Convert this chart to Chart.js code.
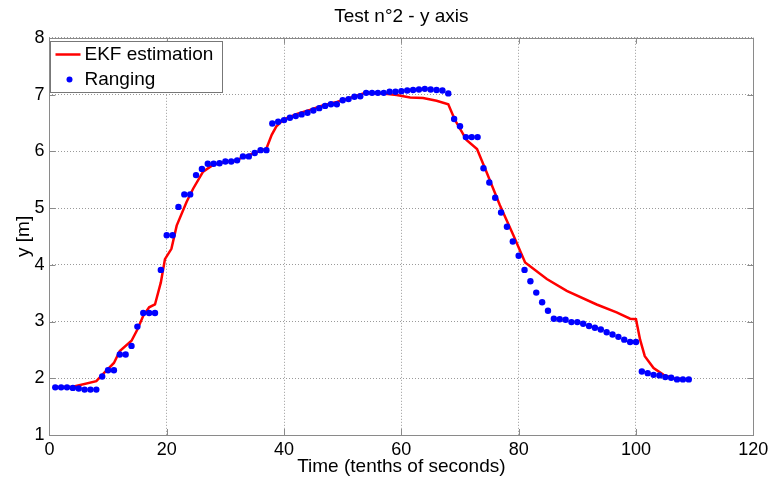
<!DOCTYPE html>
<html>
<head>
<meta charset="utf-8">
<title>Test n°2 - y axis</title>
<script src="https://cdn.jsdelivr.net/npm/chart.js@4"></script>
<style>
    html, body { margin: 0; padding: 0; background: #fff; }
</style>
</head>
<body>
<canvas id="chartY" width="777" height="480"></canvas>
<script>
// Ranging samples (y in metres), one per tenth of second from t = 1
const rangingY = [
    1.84, 1.84, 1.84, 1.83, 1.82, 1.80, 1.80, 1.80, 2.03, 2.14,
    2.14, 2.42, 2.42, 2.57, 2.91, 3.15, 3.15, 3.15, 3.91, 4.52,
    4.52, 5.02, 5.24, 5.24, 5.58, 5.69, 5.78, 5.78, 5.79, 5.82,
    5.82, 5.84, 5.91, 5.91, 5.97, 6.02, 6.02, 6.49, 6.52, 6.55,
    6.59, 6.62, 6.65, 6.68, 6.72, 6.76, 6.80, 6.83, 6.83, 6.90,
    6.92, 6.96, 6.97, 7.03, 7.03, 7.03, 7.03, 7.05, 7.05, 7.06,
    7.07, 7.08, 7.09, 7.10, 7.09, 7.08, 7.07, 7.02, 6.57, 6.44,
    6.25, 6.25, 6.25, 5.70, 5.45, 5.18, 4.92, 4.67, 4.41, 4.16,
    3.91, 3.71, 3.51, 3.34, 3.19, 3.05, 3.04, 3.03, 2.99, 2.99,
    2.96, 2.92, 2.89, 2.86, 2.81, 2.77, 2.73, 2.68, 2.64, 2.64,
    2.12, 2.09, 2.06, 2.05, 2.02, 2.01, 1.98, 1.98, 1.98
];

// EKF estimation, vertices of the red curve
const ekfT = [
    1, 4, 8, 9, 11, 12, 14, 15, 16, 17,
    18, 19, 19.7, 20.8, 21.7, 23.4, 24.5, 26.2, 27.9, 30.2,
    31.8, 32.8, 33.9, 35.3, 37, 37.9, 38.7, 39.9, 42.2, 44.4,
    46.7, 49, 51.2, 53.5, 56.9, 59.2, 61.5, 63.7, 66, 68,
    69.1, 71.1, 72.9, 74.5, 76.8, 79.1, 81.1, 84.8, 88.2, 93.3,
    96.7, 99, 100, 100.7, 101.5, 103, 104.7, 106.4, 108.9
];
const ekfY = [
    1.84, 1.85, 1.95, 2.06, 2.27, 2.48, 2.66, 2.86, 3.10, 3.25,
    3.30, 3.69, 4.10, 4.28, 4.69, 5.11, 5.34, 5.64, 5.76, 5.82,
    5.83, 5.89, 5.93, 5.98, 6.05, 6.29, 6.44, 6.56, 6.66, 6.73,
    6.81, 6.87, 6.94, 7.02, 7.02, 6.99, 6.95, 6.94, 6.89, 6.83,
    6.56, 6.20, 6.04, 5.64, 5.05, 4.52, 4.04, 3.75, 3.54, 3.30,
    3.16, 3.05, 3.04, 2.68, 2.39, 2.18, 2.06, 2.00, 1.98
];

const xTicks = [0, 20, 40, 60, 80, 100, 120];
const yTicks = [1, 2, 3, 4, 5, 6, 7, 8];
const seriesNames = ['EKF estimation', 'Ranging'];
const chartTitle = 'Test n°2 - y axis';
const xTitle = 'Time (tenths of seconds)';
const yTitle = 'y [m]';

const FONT = '"Liberation Sans", Arial, Helvetica, sans-serif';
const RED = '#ff0000';
const BLUE = '#0000ff';
const FRAME = '#8a8a8a';

// Marco tipo MATLAB con marcas hacia dentro
const boxPlugin = {
    id: 'boxPlugin',
    beforeDatasetsDraw(chart) {
        const ctx = chart.ctx;
        const a = chart.chartArea;
        const sx = chart.scales.x;
        const sy = chart.scales.y;
        const len = 6;
        ctx.save();
        ctx.strokeStyle = FRAME;
        ctx.lineWidth = 1;
        ctx.beginPath();
        xTicks.forEach(v => {
            const px = Math.round(sx.getPixelForValue(v)) + 0.5;
            ctx.moveTo(px, a.bottom); ctx.lineTo(px, a.bottom - len);
            ctx.moveTo(px, a.top); ctx.lineTo(px, a.top + len);
        });
        yTicks.forEach(v => {
            const py = Math.round(sy.getPixelForValue(v)) + 0.5;
            ctx.moveTo(a.left, py); ctx.lineTo(a.left + len, py);
            ctx.moveTo(a.right, py); ctx.lineTo(a.right - len, py);
        });
        ctx.stroke();
        ctx.strokeRect(Math.round(a.left) + 0.5, Math.round(a.top) + 0.5,
            Math.round(a.right - a.left), Math.round(a.bottom - a.top));
        ctx.restore();
    },
    afterDraw(chart) {
        // Leyenda dentro del área, arriba a la izquierda
        const ctx = chart.ctx;
        const a = chart.chartArea;
        const lx = Math.round(a.left) + 1.5;
        const ly = Math.round(a.top) + 3.5;
        const w = 172, h = 51;
        ctx.save();
        ctx.fillStyle = '#fff';
        ctx.fillRect(lx, ly, w, h);
        ctx.strokeStyle = '#777';
        ctx.lineWidth = 1;
        ctx.strokeRect(lx, ly, w, h);

        ctx.strokeStyle = RED;
        ctx.lineWidth = 2.5;
        ctx.beginPath();
        ctx.moveTo(lx + 5, ly + 13);
        ctx.lineTo(lx + 30, ly + 13);
        ctx.stroke();

        ctx.fillStyle = BLUE;
        ctx.beginPath();
        ctx.arc(lx + 19, ly + 38, 3, 0, Math.PI * 2);
        ctx.fill();

        ctx.fillStyle = '#000';
        ctx.font = '19px ' + FONT;
        ctx.textBaseline = 'middle';
        ctx.fillText(seriesNames[0], lx + 34, ly + 13);
        ctx.fillText(seriesNames[1], lx + 34, ly + 38);
        ctx.restore();
    }
};

function initChart() {
    const ctx = document.getElementById('chartY');
    Chart.defaults.font.family = FONT;
    Chart.defaults.color = '#000';

    new Chart(ctx, {
        type: 'scatter',
        data: {
            datasets: [{
                label: seriesNames[1],
                data: rangingY.map((y, i) => ({ x: i + 1, y: y })),
                pointRadius: 3.2,
                pointBackgroundColor: BLUE,
                pointBorderWidth: 0,
                showLine: false,
                order: 0
            }, {
                label: seriesNames[0],
                data: ekfT.map((t, i) => ({ x: t, y: ekfY[i] })),
                showLine: true,
                borderColor: RED,
                borderWidth: 2.5,
                pointRadius: 0,
                tension: 0,
                order: 1
            }]
        },
        options: {
            responsive: false,
            animation: false,
            layout: { padding: { left: 0, right: 23.7, top: 0, bottom: 0 } },
            plugins: {
                legend: { display: false },
                tooltip: { enabled: false },
                title: {
                    display: true,
                    text: chartTitle,
                    fullSize: false,
                    color: '#000',
                    font: { size: 19, weight: 'normal', family: FONT },
                    padding: { top: 5, bottom: 10 }
                }
            },
            scales: {
                x: {
                    type: 'linear',
                    min: 0,
                    max: 120,
                    afterBuildTicks: s => { s.ticks = xTicks.map(v => ({ value: v })); },
                    afterFit: s => { s.height = 45; },
                    grid: { color: '#9a9a9a', drawTicks: false, lineWidth: 1 },
                    border: { display: false, dash: [1, 2] },
                    ticks: { font: { size: 18 }, padding: 4, maxRotation: 0 },
                    title: {
                        display: true,
                        text: xTitle,
                        font: { size: 19 },
                        padding: { top: 0, bottom: 2 }
                    }
                },
                y: {
                    type: 'linear',
                    min: 1,
                    max: 8,
                    afterBuildTicks: s => { s.ticks = yTicks.map(v => ({ value: v })); },
                    afterFit: s => { s.width = 49.4; },
                    grid: { color: '#9a9a9a', drawTicks: false, lineWidth: 1 },
                    border: { display: false, dash: [1, 2] },
                    ticks: { font: { size: 18 }, padding: 5 },
                    title: {
                        display: true,
                        text: yTitle,
                        font: { size: 19 },
                        padding: { top: 12, bottom: 0 }
                    }
                }
            }
        },
        plugins: [boxPlugin]
    });
}

document.addEventListener('DOMContentLoaded', initChart);
</script>
</body>
</html>
